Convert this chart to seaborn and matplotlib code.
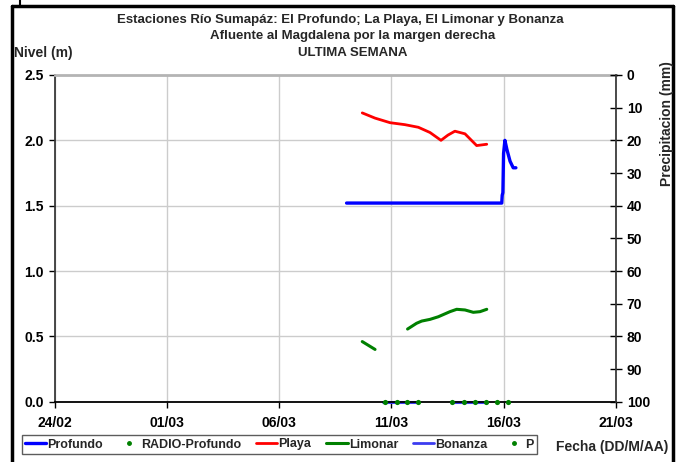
import pandas as pd
import matplotlib
matplotlib.use("Agg")
import matplotlib.pyplot as plt
from matplotlib.lines import Line2D
import seaborn as sns

inicio = pd.Timestamp("2025-02-24")

# dias desde 24/02 y nivel (m)
dias_profundo = [13.0, 19.92, 19.94, 19.97, 20.0, 20.06, 20.15, 20.29, 20.43, 20.55]
nivel_profundo = [1.52, 1.52, 1.58, 1.60, 1.90, 2.00, 1.93, 1.84, 1.79, 1.79]

dias_playa = [13.70, 14.27, 14.94, 15.60, 16.20, 16.72, 17.21, 17.52, 17.83, 18.28, 18.80, 19.25]
nivel_playa = [2.21, 2.17, 2.135, 2.12, 2.10, 2.06, 2.00, 2.04, 2.07, 2.05, 1.96, 1.97]

dias_limonar = [13.70, 14.27,
                15.72, 16.12, 16.35, 16.72, 17.09, 17.61, 17.91, 18.28, 18.65, 18.95, 19.25]
nivel_limonar = [0.46, 0.40,
                 0.556, 0.60, 0.617, 0.630, 0.650, 0.689, 0.707, 0.702, 0.684, 0.689, 0.707]
tramo_limonar = [1, 1, 2, 2, 2, 2, 2, 2, 2, 2, 2, 2, 2]

dias_bonanza = [14.64, 16.20, 17.69, 19.25]
nivel_bonanza = [0.0, 0.0, 0.0, 0.0]
tramo_bonanza = [1, 1, 2, 2]

dias_p = [14.70, 15.23, 15.71, 16.20, 17.72, 18.24, 18.73, 19.22, 19.72, 20.21]
valor_p = [0.0] * 10

fechas_ticks = ["24/02", "01/03", "06/03", "11/03", "16/03", "21/03"]


def a_fecha(dias):
    return [inicio + pd.Timedelta(days=d) for d in dias]


df_prof = pd.DataFrame({"fecha": a_fecha(dias_profundo), "nivel": nivel_profundo})
df_playa = pd.DataFrame({"fecha": a_fecha(dias_playa), "nivel": nivel_playa})
df_lim = pd.DataFrame({"fecha": a_fecha(dias_limonar), "nivel": nivel_limonar, "tramo": tramo_limonar})
df_bon = pd.DataFrame({"fecha": a_fecha(dias_bonanza), "nivel": nivel_bonanza, "tramo": tramo_bonanza})
df_p = pd.DataFrame({"fecha": a_fecha(dias_p), "nivel": valor_p})

sns.set_theme(style="white")
plt.rcParams["font.family"] = ["Liberation Sans", "DejaVu Sans"]
plt.rcParams["font.weight"] = "bold"

fig = plt.figure(figsize=(6.84, 4.62), dpi=100)
ax = fig.add_axes([55 / 684, 1 - 401.7 / 462, (615.7 - 55) / 684, (401.7 - 75) / 462])

sns.lineplot(data=df_prof, x="fecha", y="nivel", color="#0000ff", lw=2.4, ax=ax, legend=False)
sns.lineplot(data=df_playa, x="fecha", y="nivel", color="#ff0000", lw=2.0, ax=ax, legend=False)
sns.lineplot(data=df_lim, x="fecha", y="nivel", units="tramo", estimator=None,
             color="#008000", lw=2.2, ax=ax, legend=False)
sns.lineplot(data=df_bon, x="fecha", y="nivel", units="tramo", estimator=None,
             color="#3c3cf0", lw=2.2, ax=ax, legend=False)
sns.scatterplot(data=df_p, x="fecha", y="nivel", color="#008000", s=14, linewidth=0,
                ax=ax, legend=False, zorder=5, clip_on=False)
for ln in ax.lines:
    ln.set_clip_on(False)

ax.set_xlim(inicio, inicio + pd.Timedelta(days=25))
ax.set_ylim(0, 2.5)
ax.set_xticks([inicio + pd.Timedelta(days=5 * i) for i in range(6)])
ax.set_xticklabels(fechas_ticks)
ax.set_yticks([0, 0.5, 1.0, 1.5, 2.0, 2.5])
ax.set_yticklabels(["0.0", "0.5", "1.0", "1.5", "2.0", "2.5"])
ax.grid(True, color="#cccccc", lw=1)
ax.set_xlabel("")
ax.set_ylabel("")
ax.tick_params(axis="both", labelsize=10, colors="black", length=4, width=1, direction="out")
ax.tick_params(axis="x", pad=6)
ax.tick_params(axis="y", pad=4)
ax.tick_params(left=True, bottom=True)
ax.spines["top"].set_color("#b4b4b4")
ax.spines["top"].set_linewidth(2)
ax.spines["left"].set_color("#333333")
ax.spines["bottom"].set_color("black")
ax.spines["bottom"].set_linewidth(1.3)
ax.spines["right"].set_visible(False)

ax2 = ax.twinx()
ax2.set_ylim(100, 0)
ax2.set_yticks(range(0, 101, 10))
ax2.tick_params(axis="y", labelsize=10, colors="black", length=8, width=1, direction="inout", pad=4)
ax2.tick_params(right=True)
for s in ["top", "left", "bottom"]:
    ax2.spines[s].set_visible(False)
ax2.spines["right"].set_color("#333333")
ax2.grid(False)

# titulos y etiquetas
fig.text(0.497, 1 - 20 / 462, "Estaciones Río Sumapáz: El Profundo; La Playa, El Limonar y Bonanza",
         ha="center", va="center", fontsize=9.5, fontweight="bold")
fig.text(0.515, 1 - 36 / 462, "Afluente al Magdalena por la margen derecha",
         ha="center", va="center", fontsize=9.5, fontweight="bold")
fig.text(0.515, 1 - 53 / 462, "ULTIMA SEMANA",
         ha="center", va="center", fontsize=9.5, fontweight="bold")
fig.text(14 / 684, 1 - 53 / 462, "Nivel (m)", ha="left", va="center", fontsize=10, fontweight="bold")
fig.text(667 / 684, 1 - 124 / 462, "Precipitacion (mm)", ha="center", va="center",
         rotation=90, fontsize=10, fontweight="bold")
fig.text(668 / 684, 1 - 447 / 462, "Fecha (DD/M/AA)", ha="right", va="center",
         fontsize=10, fontweight="bold")

handles = [
    Line2D([], [], color="#0000ff", lw=2.4),
    Line2D([], [], color="#008000", marker="o", ms=2.5, lw=0),
    Line2D([], [], color="#ff0000", lw=2.0),
    Line2D([], [], color="#008000", lw=2.2),
    Line2D([], [], color="#3c3cf0", lw=2.0),
    Line2D([], [], color="#008000", marker="o", ms=2.5, lw=0),
]
etiquetas = ["Profundo", "RADIO-Profundo", "Playa", "Limonar", "Bonanza", "P"]
leg = fig.legend(handles, etiquetas, ncol=6, loc="center left",
                 bbox_to_anchor=(22 / 684, 1 - 444.5 / 462), fontsize=9,
                 frameon=True, fancybox=False, handlelength=1.7, handletextpad=0.1,
                 columnspacing=1.2, borderpad=0.25, borderaxespad=0)
leg.get_frame().set_edgecolor("#333333")
leg.get_frame().set_linewidth(1)

# marco exterior
fig.add_artist(Line2D([12 / 684, 12 / 684], [0, 1 - 6 / 462], color="black", lw=2.5))
fig.add_artist(Line2D([12 / 684, 673 / 684], [1 - 6 / 462, 1 - 6 / 462], color="black", lw=2.5))
fig.add_artist(Line2D([673 / 684, 673 / 684], [0, 1 - 6 / 462], color="black", lw=2.5))
fig.add_artist(Line2D([20 / 684, 20 / 684], [1, 1 - 6 / 462], color="black", lw=1.5))

fig.savefig("out.png", dpi=100)
